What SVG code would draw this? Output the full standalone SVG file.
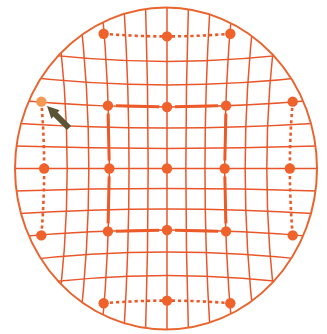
<svg xmlns="http://www.w3.org/2000/svg" width="327" height="334" viewBox="0 0 327 334">
<style>
.grid{fill:none;stroke:#e9562a;stroke-width:1.5}
.thick{fill:none;stroke:#ec5a28;stroke-width:3;stroke-linecap:butt}
.dotted{fill:none;stroke:#ec5a28;stroke-width:2.6;stroke-dasharray:3.2 3}
.dot{fill:#f0622c}
.dot.light{fill:#f39a52}
</style>
<defs>
<clipPath id="clip"><ellipse cx="166" cy="168.5" rx="151" ry="161"/></clipPath>
</defs>
<rect width="327" height="334" fill="#ffffff"/>
<g id="connectors">
<g clip-path="url(#clip)" class="grid">
<path d="M167,-6 L167,343"/>
<path d="M188.81,-5.5 Q182.89,168.5 188.81,342.5"/>
<path d="M145.19,-5.5 Q151.11,168.5 145.19,342.5"/>
<path d="M210.89,-6.6 Q199.05,168.5 210.89,343.6"/>
<path d="M123.11,-6.6 Q134.95,168.5 123.11,343.6"/>
<path d="M233.54,-8.47 Q215.77,168.5 233.54,345.47"/>
<path d="M100.46,-8.47 Q118.23,168.5 100.46,345.47"/>
<path d="M257.02,-11.06 Q233.33,168.5 257.02,348.06"/>
<path d="M76.98,-11.06 Q100.67,168.5 76.98,348.06"/>
<path d="M281.62,-14.4 Q252.01,168.5 281.62,351.4"/>
<path d="M52.38,-14.4 Q81.99,168.5 52.38,351.4"/>
<path d="M-2,168.5 L329,168.5"/>
<path d="M0.25,145.5 Q167,151.39 333.75,145.5"/>
<path d="M0.25,191.5 Q167,185.61 333.75,191.5"/>
<path d="M-0.96,122.17 Q167,133.94 334.96,122.17"/>
<path d="M-0.96,214.83 Q167,203.06 334.96,214.83"/>
<path d="M-3,98.16 Q167,115.82 337,98.16"/>
<path d="M-3,238.84 Q167,221.18 337,238.84"/>
<path d="M-5.84,73.14 Q167,96.69 339.84,73.14"/>
<path d="M-5.84,263.86 Q167,240.31 339.84,263.86"/>
<path d="M-9.49,46.78 Q167,76.22 343.49,46.78"/>
<path d="M-9.49,290.22 Q167,260.78 343.49,290.22"/>
</g>
<g class="dotted">
<path d="M292.69,101.64 Q287,168.5 292.69,235.36"/>
<path d="M41.31,101.64 Q47,168.5 41.31,235.36"/>
<path d="M103.66,33.73 Q167,39.08 230.34,33.73"/>
<path d="M103.66,303.27 Q167,297.92 230.34,303.27"/>
</g>
<g class="thick">
<path d="M115.92,105.83 L159,106.81"/>
<path d="M175,106.81 L218.08,105.83"/>
<path d="M115.92,231.17 L159,230.19"/>
<path d="M175,230.19 L218.08,231.17"/>
<path d="M108.1,113.65 L109.16,160.5"/>
<path d="M109.16,176.5 L108.1,223.35"/>
<path d="M225.9,113.65 L224.84,160.5"/>
<path d="M224.84,176.5 L225.9,223.35"/>
</g>
</g>
<ellipse id="rim" cx="166" cy="168.5" rx="151" ry="161" fill="none" stroke="#ea642e" stroke-width="2"/>
<g id="nodes">
<g id="n-c"><circle class="dot" cx="167" cy="168.5" r="5.2"/></g>
<g id="n-l3"><circle class="dot" cx="109.34" cy="168.5" r="5.2"/></g>
<g id="n-r3"><circle class="dot" cx="224.66" cy="168.5" r="5.2"/></g>
<g id="n-t3"><circle class="dot" cx="167" cy="106.99" r="5.2"/></g>
<g id="n-b3"><circle class="dot" cx="167" cy="230.01" r="5.2"/></g>
<g id="n-tl3"><circle class="dot" cx="107.92" cy="105.65" r="5.2"/></g>
<g id="n-tr3"><circle class="dot" cx="226.08" cy="105.65" r="5.2"/></g>
<g id="n-bl3"><circle class="dot" cx="107.92" cy="231.35" r="5.2"/></g>
<g id="n-br3"><circle class="dot" cx="226.08" cy="231.35" r="5.2"/></g>
<g id="n-l6"><circle class="dot" cx="44.15" cy="168.5" r="5.2"/></g>
<g id="n-r6"><circle class="dot" cx="289.85" cy="168.5" r="5.2"/></g>
<g id="n-l6t"><circle class="dot light" cx="41.31" cy="101.64" r="5.2"/></g>
<g id="n-r6t"><circle class="dot" cx="292.69" cy="101.64" r="5.2"/></g>
<g id="n-l6b"><circle class="dot" cx="41.31" cy="235.36" r="5.2"/></g>
<g id="n-r6b"><circle class="dot" cx="292.69" cy="235.36" r="5.2"/></g>
<g id="n-t6"><circle class="dot" cx="167" cy="36.4" r="5.2"/></g>
<g id="n-b6"><circle class="dot" cx="167" cy="300.6" r="5.2"/></g>
<g id="n-t6l"><circle class="dot" cx="103.66" cy="33.73" r="5.2"/></g>
<g id="n-t6r"><circle class="dot" cx="230.34" cy="33.73" r="5.2"/></g>
<g id="n-b6l"><circle class="dot" cx="103.66" cy="303.27" r="5.2"/></g>
<g id="n-b6r"><circle class="dot" cx="230.34" cy="303.27" r="5.2"/></g>
</g>
<g id="pointer" fill="#5b5535" stroke="none">
<polygon points="47,106 51.3,118.7 59.7,110.3"/>
<path d="M54.5,113.5 L69,128" stroke="#5b5535" stroke-width="6" fill="none"/>
</g>
</svg>
